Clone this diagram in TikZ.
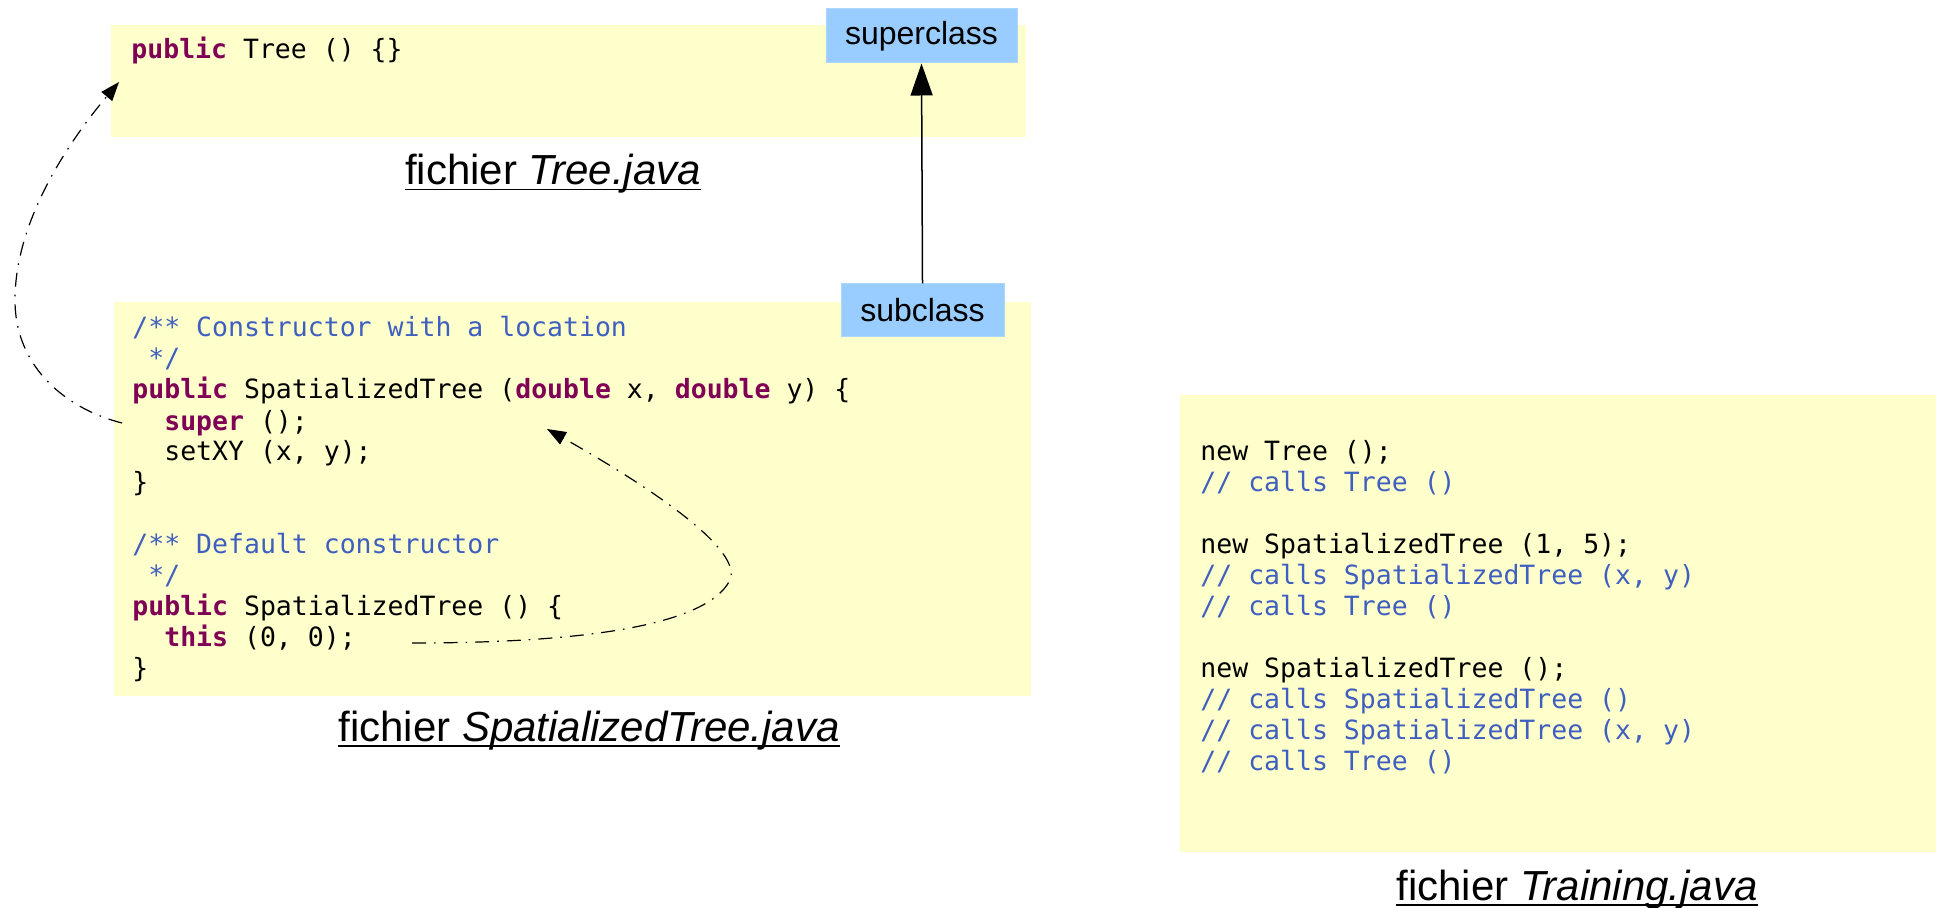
\documentclass[tikz,border=0pt]{standalone}
\usepackage{fontspec}
\setmainfont{Liberation Sans}
\newfontfamily\codefont{DejaVu Sans Mono}
\usetikzlibrary{arrows.meta}
\definecolor{boxyellow}{HTML}{FFFFCC}
\definecolor{boxblue}{HTML}{99CCFF}
\definecolor{kwcol}{HTML}{7F0055}
\definecolor{cmcol}{HTML}{3F5FBF}
\newcommand\kwd[1]{\textcolor{kwcol}{\bfseries #1}}
\newcommand\cmt[1]{\textcolor{cmcol}{#1}}
\tikzset{
  codeline/.style={anchor=base west, inner sep=0pt, font=\codefont\fontsize{13.25}{15}\selectfont},
  filelabel/.style={anchor=base, inner sep=0pt, font=\fontsize{21}{25}\selectfont},
  underl/.style={line width=0.9pt},
  classbox/.style={fill=boxblue, draw=boxblue!80!white, line width=0.5pt, inner sep=0pt, font=\fontsize{16}{19}\selectfont},
  callarrow/.style={line width=0.6pt, dash pattern=on 7pt off 4pt on 0.8pt off 4pt, -{Triangle[length=9.5pt,width=7pt]}},
  inherit/.style={line width=0.75pt, -{Triangle[length=16pt,width=11pt]}}
}
\begin{document}
\begin{tikzpicture}[x=0.5pt,y=-0.5pt]
\useasboundingbox (0,0) rectangle (1936,908);
% yellow file boxes
\fill[boxyellow] (111,25) rectangle (1026,137);
\fill[boxyellow] (114,302) rectangle (1031,696);
\fill[boxyellow] (1180,395) rectangle (1936,852);

% Tree.java
\node[codeline] (t1) at (131,59) {\kwd{public} Tree () \{\}};
\node[filelabel] (treelab) at (553,185) {fichier \textit{Tree.java}};
\draw[underl] ([yshift=-2.3pt]treelab.base west) -- ([yshift=-2.3pt]treelab.base east);

% SpatializedTree.java
\node[codeline] (s1) at (132,337) {\cmt{/** Constructor with a location}};
\node[codeline] (s2) at (132,368) {\cmt{\hphantom{x}*/}};
\node[codeline] (s3) at (132,399) {\kwd{public} SpatializedTree (\kwd{double} x, \kwd{double} y) \{};
\node[codeline] (s4) at (132,430) {\hphantom{xx}\kwd{super} ();};
\node[codeline] (s5) at (132,461) {\hphantom{xx}setXY (x, y);};
\node[codeline] (s6) at (132,491) {\}};
\node[codeline] (s7) at (132,553) {\cmt{/** Default constructor}};
\node[codeline] (s8) at (132,584) {\cmt{\hphantom{x}*/}};
\node[codeline] (s9) at (132,615) {\kwd{public} SpatializedTree () \{};
\node[codeline] (s10) at (132,646) {\hphantom{xx}\kwd{this} (0, 0);};
\node[codeline] (s11) at (132,677) {\}};
\node[filelabel] (stlab) at (589,741) {fichier \textit{SpatializedTree.java}};
\draw[underl] ([yshift=-2.3pt]stlab.base west) -- ([yshift=-2.3pt]stlab.base east);

% Training.java
\node[codeline] (r1) at (1200,460) {new Tree ();};
\node[codeline] (r2) at (1200,491) {\cmt{// calls Tree ()}};
\node[codeline] (r3) at (1200,553) {new SpatializedTree (1, 5);};
\node[codeline] (r4) at (1200,584) {\cmt{// calls SpatializedTree (x, y)}};
\node[codeline] (r5) at (1200,615) {\cmt{// calls Tree ()}};
\node[codeline] (r6) at (1200,677) {new SpatializedTree ();};
\node[codeline] (r7) at (1200,708) {\cmt{// calls SpatializedTree ()}};
\node[codeline] (r8) at (1200,739) {\cmt{// calls SpatializedTree (x, y)}};
\node[codeline] (r9) at (1200,770) {\cmt{// calls Tree ()}};
\node[filelabel] (trlab) at (1577,900) {fichier \textit{Training.java}};
\draw[underl] ([yshift=-2.3pt]trlab.base west) -- ([yshift=-2.3pt]trlab.base east);

% class boxes
\node[classbox, minimum width=95.5pt, minimum height=27pt] (superclass) at (921.5,36) {superclass};
\node[classbox, minimum width=81.5pt, minimum height=26.5pt] (subclass) at (922.5,310.5) {subclass};
\draw[inherit] (subclass.north) -- (superclass.south);

% call arrows
\coordinate (superstart) at (122,423);
\coordinate (treetarget) at (119,82);
\draw[callarrow] (superstart) .. controls (70,410) and (15,370) .. (15,300)
  .. controls (15,220) and (70,140) .. (treetarget);
\coordinate (thisstart) at (412,643);
\coordinate (sttarget) at (547,429);
\draw[callarrow] (thisstart) .. controls (560,643) and (705,630) .. (730,580)
  .. controls (745,545) and (620,470) .. (sttarget);
\end{tikzpicture}
\end{document}
